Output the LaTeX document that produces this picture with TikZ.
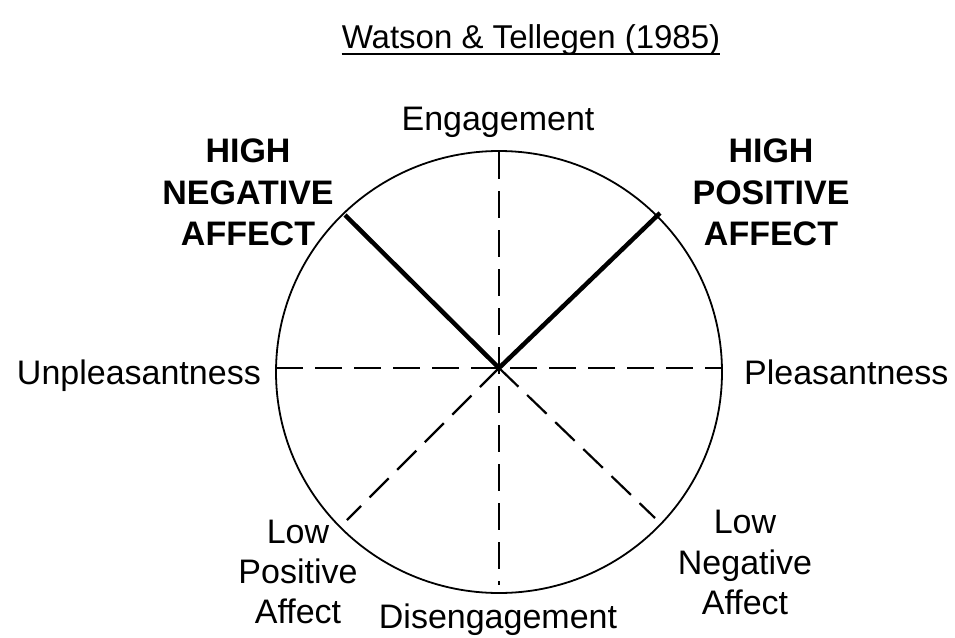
\documentclass[tikz,border=0pt]{standalone}
\usepackage{fontspec}
\setmainfont{Liberation Sans}
\begin{document}
\begin{tikzpicture}[x=1pt,y=-1pt,
  lbl/.style={inner sep=0pt,anchor=base,font=\fontsize{34}{41}\selectfont},
  blbl/.style={inner sep=0pt,anchor=base,font=\fontsize{34}{41}\selectfont\bfseries},
  axis/.style={line width=2.2pt,dash pattern=on 27pt off 12pt},
  heavy/.style={line width=4.5pt},
  rim/.style={line width=1.8pt}]
\useasboundingbox (0,0) rectangle (955,637);
\coordinate (c) at (499,368);
\coordinate (top) at (499,152);
\coordinate (bot) at (499,585);
\coordinate (lft) at (276,368);
\coordinate (rgt) at (722,368);
\coordinate (nw) at (345,215);
\coordinate (ne) at (660,213);
\coordinate (sw) at (347,520);
\coordinate (se) at (655,518);
\draw[rim] (499,372) ellipse [x radius=223,y radius=221];
\draw[axis] (top) -- (bot);
\draw[axis] (lft) -- (rgt);
\draw[axis] (c) -- (sw);
\draw[axis] (c) -- (se);
\draw[heavy] (c) -- (nw);
\draw[heavy] (c) -- (ne);
\draw[axis,shift={(-1.6,-1.6)}] (c) -- (ne);
\node[lbl,font=\fontsize{33}{40}\selectfont] (title) at (531,48) {Watson \& Tellegen (1985)};
\draw[line width=1.6pt] ([yshift=-6pt]title.base west) -- ([yshift=-6pt]title.base east);
\node[lbl] (eng) at (498,130) {Engagement};
\node[lbl] (dis) at (498,628) {Disengagement};
\node[lbl,anchor=base east] (unp) at (261,384) {Unpleasantness};
\node[lbl,anchor=base west] (ple) at (744,384) {Pleasantness};
\node[blbl] (hn1) at (248,162) {HIGH};
\node[blbl] (hn2) at (248,204) {NEGATIVE};
\node[blbl] (hn3) at (248,245) {AFFECT};
\node[blbl] (hp1) at (771,162) {HIGH};
\node[blbl] (hp2) at (771,204) {POSITIVE};
\node[blbl] (hp3) at (771,245) {AFFECT};
\node[lbl] (lp1) at (298,543) {Low};
\node[lbl] (lp2) at (298,583) {Positive};
\node[lbl] (lp3) at (298,623) {Affect};
\node[lbl] (ln1) at (745,533) {Low};
\node[lbl] (ln2) at (745,574) {Negative};
\node[lbl] (ln3) at (745,614) {Affect};
\end{tikzpicture}
\end{document}
